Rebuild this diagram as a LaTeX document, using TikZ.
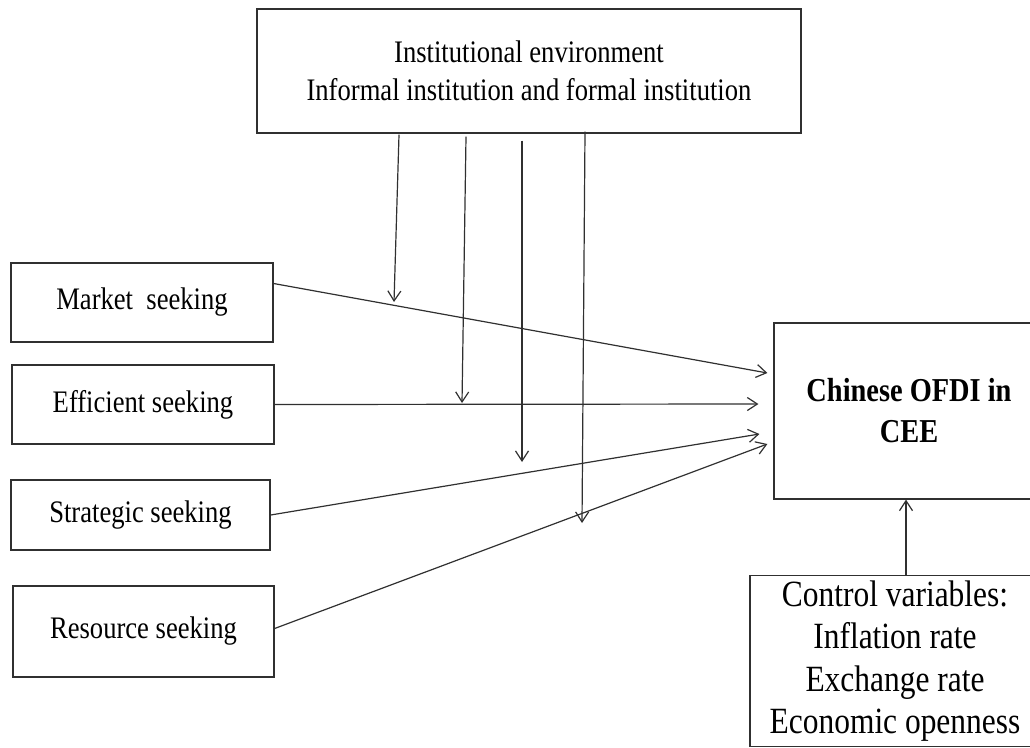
\documentclass[tikz,border=0pt]{standalone}
\usepackage{fontspec}
\setmainfont{Liberation Serif}[FakeStretch=0.85]
\usetikzlibrary{arrows.meta}
\usepackage{xcolor}
\definecolor{linie}{HTML}{303030}
\tikzset{
    box/.style={draw=linie, line width=1.2pt, inner sep=0pt, align=center},
    arr/.style={draw=linie, line width=1.2pt, -{Straight Barb[length=10pt,width=13pt]}},
    normaltext/.style={font=\fontsize{31.3}{38.4}\selectfont}
}
\begin{document}
\begin{tikzpicture}[x=1pt, y=-1pt]
\useasboundingbox (0,0) rectangle (1030,747);
\clip (0,0) rectangle (1030,747);

% Kasten oben
\node[box, normaltext, minimum width=544pt, minimum height=124pt] (inst) at (529,71)
    {Institutional environment\\Informal institution and formal institution};

% Motive links
\node[box, normaltext, minimum width=262pt, minimum height=79pt] (market) at (142,302.5) {Market\ \ seeking};
\node[box, normaltext, minimum width=262pt, minimum height=79pt] (efficient) at (143,404.5) {Efficient seeking};
\node[box, normaltext, minimum width=259pt, minimum height=70pt] (strategic) at (140.5,515) {Strategic seeking};
\node[box, normaltext, minimum width=261pt, minimum height=91pt] (resource) at (143.5,631.5) {Resource seeking};

% Ziel und Kontrollvariablen
\node[box, minimum width=270pt, minimum height=176pt, font=\fontsize{33.4}{41}\selectfont\bfseries] (ofdi) at (909,411)
    {Chinese OFDI in\\CEE};
\node[box, anchor=north, minimum width=290pt, inner ysep=5pt, font=\fontsize{37}{42.5}\selectfont] (control) at (895,575)
    {Control variables:\\Inflation rate\\Exchange rate\\Economic openness};

% Pfeilspitzen vor dem Zielkasten
\coordinate (tmarket) at ([shift={(-6,-38)}]ofdi.west);
\coordinate (tefficient) at ([shift={(-15,-7)}]ofdi.west);
\coordinate (tstrategic) at ([shift={(-14,23)}]ofdi.west);
\coordinate (tresource) at ([shift={(-6,33)}]ofdi.west);

\draw[arr] ([yshift=19pt]market.east) -- (tmarket);
\draw[arr] (efficient.east) -- (tefficient);
\draw[arr] (strategic.east) -- (tstrategic);
\draw[arr] ([yshift=3pt]resource.east) -- (tresource);

% moderierende Pfeile
\foreach \sx/\sy/\ex/\ey [count=\i] in {-130/-1/394/302, -63/-3/462/403, -7/-7/522/462, 56/2/582/523} {
    \coordinate (mod\i) at (\ex,\ey);
    \draw[arr] ([shift={(\sx pt,\sy pt)}]inst.south) -- (mod\i);
}

\draw[arr] (control.north -| 906,0) -- (ofdi.south -| 906,0);
\end{tikzpicture}
\end{document}
